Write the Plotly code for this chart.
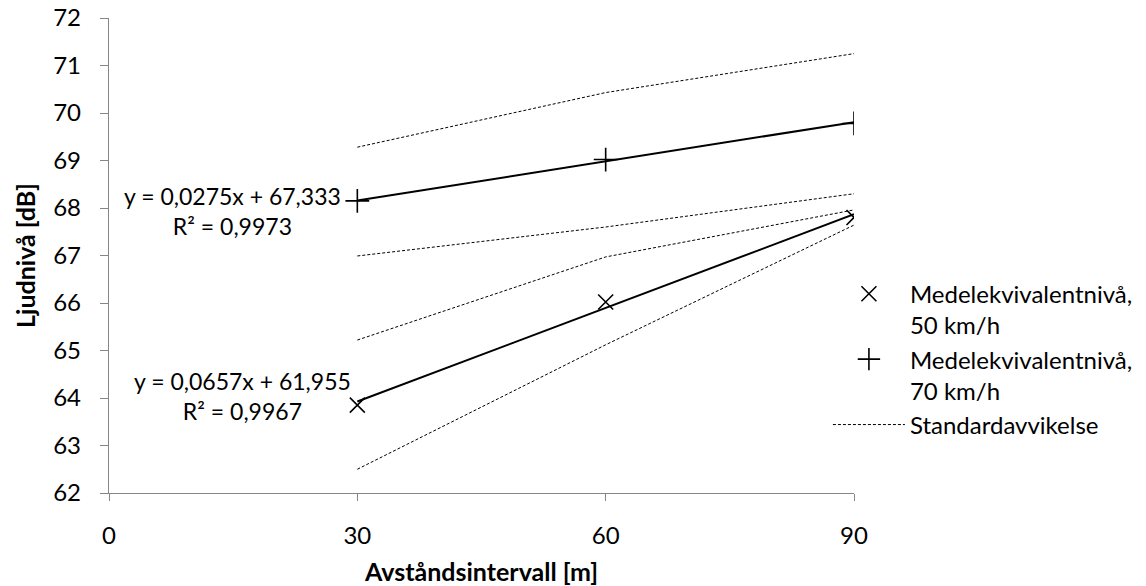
import plotly.graph_objects as go

# ---- data ----
distance = [30, 60, 90]
level_50 = [63.85, 66.02, 67.80]
level_70 = [68.15, 69.02, 69.78]

std_50_upper = [65.22, 66.97, 67.96]
std_50_lower = [62.50, 65.12, 67.64]
std_70_upper = [69.28, 70.43, 71.25]
std_70_lower = [66.99, 67.60, 68.30]

trend_50 = {"slope": 0.0657, "intercept": 61.955, "r2": 0.9967}
trend_70 = {"slope": 0.0275, "intercept": 67.333, "r2": 0.9973}

name_50 = "Medelekvivalentnivå,<br>50 km/h"
name_70 = "Medelekvivalentnivå,<br>70 km/h"
name_std = "Standardavvikelse"

x_ticks = [0, 30, 60, 90]
y_ticks = list(range(62, 73))

FONT = "Lato"
TXT = 25
ANN = 23
LEG = 24
TICK = 24

fig = go.Figure()

# standard deviation lines
for i, ys in enumerate([std_70_upper, std_70_lower, std_50_upper, std_50_lower]):
    fig.add_trace(go.Scatter(
        x=distance, y=ys, mode="lines",
        line=dict(color="black", width=1, dash="3px,2px"),
        name=name_std, legendgroup="std", showlegend=(i == 0),
        legendrank=3, hoverinfo="skip"))

# trendlines
for tr in (trend_50, trend_70):
    xs = [distance[0], distance[-1]]
    ys = [tr["slope"] * x + tr["intercept"] for x in xs]
    fig.add_trace(go.Scatter(x=xs, y=ys, mode="lines",
                             line=dict(color="black", width=2),
                             showlegend=False, hoverinfo="skip"))

# measured points
fig.add_trace(go.Scatter(
    x=distance, y=level_50, mode="markers", name=name_50, legendrank=1,
    marker=dict(symbol="x-thin-open", size=15, color="black",
                line=dict(color="black", width=1.6))))
fig.add_trace(go.Scatter(
    x=distance, y=level_70, mode="markers", name=name_70, legendrank=2,
    marker=dict(symbol="cross-thin-open", size=17, color="black",
                line=dict(color="black", width=1.6))))

def fmt(v, d):
    return f"{v:.{d}f}".replace(".", ",")

for tr, xpos, ypos in ((trend_70, 14.9, 67.94), (trend_50, 16.1, 64.04)):
    fig.add_annotation(
        x=xpos, y=ypos, xref="x", yref="y", showarrow=False,
        text=f"y = {fmt(tr['slope'], 4)}x + {fmt(tr['intercept'], 3)}<br>R² = {fmt(tr['r2'], 4)}",
        font=dict(family=FONT, size=ANN, color="black"), align="center")

axis_common = dict(
    showgrid=False, zeroline=False, showline=True, linecolor="#868686",
    linewidth=1.3, ticks="outside", tickcolor="#868686", tickwidth=1.3,
    tickfont=dict(family=FONT, size=TICK, color="black"),
    title_font=dict(family=FONT, size=TXT, color="black"),
    automargin=False)

fig.update_xaxes(range=[0, 90], tickvals=x_ticks, ticklen=7,
                 ticklabelstandoff=14,
                 title_text="<b>Avståndsintervall [m]</b>", title_standoff=16,
                 **axis_common)
fig.update_yaxes(range=[62, 72], tickvals=y_ticks, ticklen=8,
                 ticklabelstandoff=14,
                 title_text="<b>Ljudnivå [dB]</b>", title_standoff=10,
                 **axis_common)

fig.update_layout(
    width=1146, height=586,
    margin=dict(l=109, r=292, t=18, b=93, autoexpand=False),
    plot_bgcolor="white", paper_bgcolor="white",
    font=dict(family=FONT, size=TXT, color="black"),
    legend=dict(x=0.965, xanchor="left", y=0.466, yanchor="top",
                valign="top", itemwidth=72, tracegroupgap=0,
                font=dict(family=FONT, size=LEG, color="black"),
                bgcolor="rgba(0,0,0,0)"),
)

fig.write_html("out.html")
